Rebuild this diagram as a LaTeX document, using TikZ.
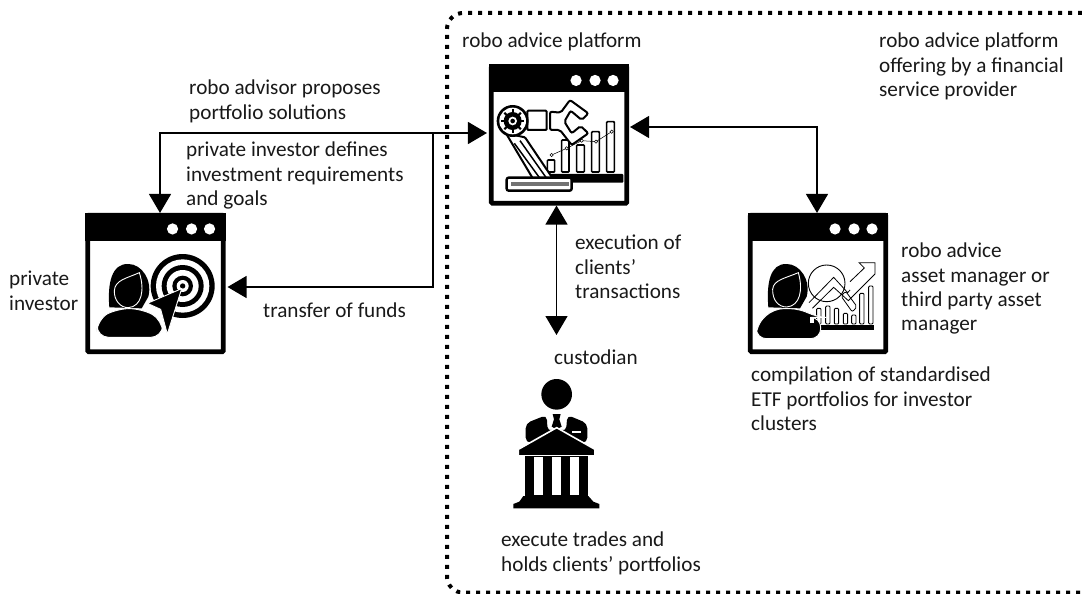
\documentclass[tikz,border=0pt]{standalone}
\usepackage{fontspec}
\setmainfont{Carlito}
\usetikzlibrary{arrows.meta}
\newcommand\flstrut{\rule{0pt}{15.5pt}}
\tikzset{
  win/.style={draw=black,line width=4.6pt,fill=white,rounded corners=1pt,minimum width=135.5pt,minimum height=136.5pt,inner sep=0pt},
  txt/.style={anchor=north west,inner sep=0pt,align=left,text=black!90,font=\fontsize{21.2}{24.4}\selectfont},
  conn/.style={line width=1.3pt,draw=black},
  dotsborder/.style={line width=4pt,dash pattern=on 4pt off 6pt,rounded corners=16pt},
  bar/.style={draw=black,line width=1.6pt,fill=white,rounded corners=0.8pt},
  thick1/.style={draw=black,line width=2pt,fill=white,rounded corners=1pt},
  fineline/.style={draw=black,line width=0.5pt},
  wedge/.style={draw=white,line width=0.9pt,fill=black},
}
\newcommand\titlebar[1]{%
  \fill[black] (#1.north west) rectangle ([yshift=-28pt]#1.north east);
  \foreach \d in {-53,-34,-16} \fill[white] ([xshift=\d pt,yshift=-16pt]#1.north east) circle (5.6pt);
}
\begin{document}
\begin{tikzpicture}[x=1pt,y=-1pt]
\useasboundingbox (0,0) rectangle (1082,594);
\fill[white] (0,0) rectangle (1082,594);
\draw[dotsborder] (1082,13) -- (447,13) -- (447,592.6) -- (1082,592.6);

% windows
\node[win] (plat) at (559,135) {};
\node[win] (inv) at (155.5,283.5) {};
\node[win] (mgr) at (818,283.5) {};
\titlebar{plat}\titlebar{inv}\titlebar{mgr}

% robot and chart
\begin{scope}[shift={(470,50)},scale=1/3]
  \fill[black,rounded corners=1pt] (240,372) rectangle (460,398);
  \draw[bar] (232,330) rectangle (254,366);
  \draw[bar] (275,270) rectangle (297,366);
  \draw[bar] (320,285) rectangle (343,366);
  \draw[bar] (365,245) rectangle (388,366);
  \draw[bar] (410,215) rectangle (433,366);
  \draw[fineline] (245,315) -- (290,295) -- (335,272) -- (378,275) -- (425,245);
  \foreach \p in {(245,315),(290,295),(335,272),(378,275),(425,245)}
    \draw[fineline,fill=white] \p circle (5);
  \draw[thick1] (108,250) -- (165,262) -- (250,388) -- (190,388) -- cycle;
  \draw[black,line width=1.5pt] (133,280) -- (212,388) (150,272) -- (232,388);
  \draw[black,line width=2.4pt,rounded corners=2pt,fill=white] (110,383) rectangle (305,422);
  \fill[black!55] (122,396) rectangle (296,408);
  \draw[thick1] (172,182) rectangle (230,240);
  \draw[black,fill=white,line width=2pt,rounded corners=2pt] (240,185) -- (272,188) -- (300,150) -- (355,190) -- (335,210) -- (302,182) -- (283,215) -- (305,250) -- (332,228) -- (355,250) -- (305,285) -- (270,240) -- (240,240) -- cycle;
  \fill[black] (128,213) circle (48);
  \fill[white] (128,213) circle (40);
  \fill[black] (128,213) circle (27);
  \foreach \a in {0,45,...,315}
    \draw[black,line width=2.2pt] (128,213) -- ++(\a:35);
  \fill[white] (128,213) circle (13);
  \fill[black] (128,213) circle (7);
\end{scope}

% investor icon
\begin{scope}[shift={(70,200)},scale=1/3]
  \foreach \r/\c in {96/black,80/white,63/black,48/white,31/black,18/white,8/black}
    \fill[\c] (338,258) circle (\r);
  \draw[wedge] (335,266) -- (232,310) -- (272,328) -- (292,402) -- cycle;
  \fill[black] (118,322) .. controls (112,250) and (125,190) .. (175,192) .. controls (215,192) and (248,240) .. (235,290) -- (215,325) -- cycle;
  \draw[wedge] (133,272) .. controls (135,240) and (170,235) .. (208,218) .. controls (225,270) and (215,320) .. (175,323) .. controls (150,323) and (132,300) .. (133,272) -- cycle;
  \draw[wedge,rounded corners=12pt] (80,412) -- (82,358) -- (140,326) -- (215,326) -- (278,360) -- (278,412) -- cycle;
\end{scope}

% manager icon
\begin{scope}[shift={(735,200)},scale=1/3]
  \draw[black,line width=0.9pt,fill=white] (275,250) circle (55);
  \draw[black,line width=0.8pt,fill=white,rounded corners=2pt] (318,288) -- (332,274) -- (366,320) -- (352,336) -- cycle;
  \draw[black,line width=0.8pt] (222,308) -- (296,232) -- (338,278) -- (345,270);
  \draw[black,line width=0.8pt] (232,325) -- (296,262) -- (340,302) -- (420,222) -- (420,188) -- (372,188) -- (388,204) -- (345,245);
  \foreach \x/\t in {245/325,272/318,298/325,325/340,350/345,374/280,401/258}
    \draw[black,line width=0.9pt,fill=white,rounded corners=1pt] (\x,\t) rectangle ++(13,372-\t);
  \fill[black] (225,375) rectangle (416,390);
  \fill[black] (100,322) .. controls (94,250) and (105,190) .. (155,192) .. controls (195,192) and (228,240) .. (215,290) -- (195,325) -- cycle;
  \draw[wedge] (113,268) .. controls (115,240) and (150,235) .. (190,218) .. controls (205,270) and (195,318) .. (155,321) .. controls (130,321) and (112,300) .. (113,268) -- cycle;
  \draw[wedge,rounded corners=10pt] (64,416) -- (64,375) -- (115,326) -- (195,326) -- (245,352) -- (257,352) -- (257,416) -- cycle;
  \fill[white] (226,352) rectangle (238,370);
\end{scope}

% custodian icon
\begin{scope}[shift={(480,360)},scale=1/3]
  \fill[black] (230,103) circle (46);
  \fill[black,rounded corners=5pt] (137,248) -- (137,190) -- (200,165) -- (203,215) -- (230,205) -- (258,215) -- (262,165) -- (322,190) -- (322,248) -- cycle;
  \fill[black] (218,162) -- (242,162) -- (238,178) -- (245,200) -- (230,208) -- (215,200) -- (222,178) -- cycle;
  \fill[white] (275,214) rectangle (302,219);
  \draw[white,line width=1.6pt,fill=black] (115,268) -- (230,203) -- (345,268) -- (345,288) -- (115,288) -- cycle;
  \fill[black] (135,288) rectangle (325,410);
  \fill[white] (163,292) rectangle (190,405);
  \fill[white] (217,292) rectangle (244,405);
  \fill[white] (271,292) rectangle (298,405);
  \fill[black] (130,408) -- (325,408) -- (340,425) -- (358,432) -- (358,445) -- (100,445) -- (100,432) -- (118,425) -- cycle;
\end{scope}

% texts
\node[txt] (tplat) at (462,32) {\flstrut robo advice platform};
\node[txt] (toffer) at (879,32) {\flstrut robo advice platform\\offering by a financial\\service provider};
\node[txt] (tprop) at (189,79) {\flstrut robo advisor proposes\\portfolio solutions};
\node[txt] (tdef) at (186,141) {\flstrut private investor defines\\investment requirements\\and goals};
\node[txt] (tinv) at (9,270) {\flstrut private\\investor};
\node[txt] (tfund) at (263,302) {\flstrut transfer of funds};
\node[txt] (texec) at (575,234) {\flstrut execution of\\clients’\\transactions};
\node[txt] (tcust) at (554,349) {\flstrut custodian};
\node[txt] (tmgr) at (901,242) {\flstrut robo advice\\asset manager or\\third party asset\\manager};
\node[txt] (tcomp) at (751,366) {\flstrut compilation of standardised\\ETF portfolios for investor\\clusters};
\node[txt] (ttrade) at (501,531) {\flstrut execute trades and\\holds clients’ portfolios};

% connector ends
\path ([xshift=-2pt,yshift=2pt]plat.west) coordinate (pl);
\path ([xshift=1pt,yshift=8pt]plat.east) coordinate (pr);
\path ([xshift=-2.5pt]plat.south) coordinate (ps);
\path ([xshift=4.5pt]inv.north) coordinate (it);
\path ([xshift=2pt,yshift=-3.5pt]inv.east) coordinate (ir);
\path ([xshift=-1pt]mgr.north) coordinate (mt);
\coordinate (ce) at (556.5,335);
\coordinate (jn) at (433,133);

\draw[conn,{Triangle[length=19pt,width=22pt]}-{Triangle[length=19pt,width=22pt]}] (pl) -| (it);
\draw[conn,-{Triangle[length=19pt,width=22pt]}] (jn) |- (ir);
\draw[conn,{Triangle[length=19pt,width=22pt]}-{Triangle[length=19pt,width=22pt]}] (pr) -| (mt);
\draw[conn,{Triangle[length=19pt,width=22pt]}-{Triangle[length=19pt,width=22pt]}] (ps) -- (ce);
\end{tikzpicture}
\end{document}
